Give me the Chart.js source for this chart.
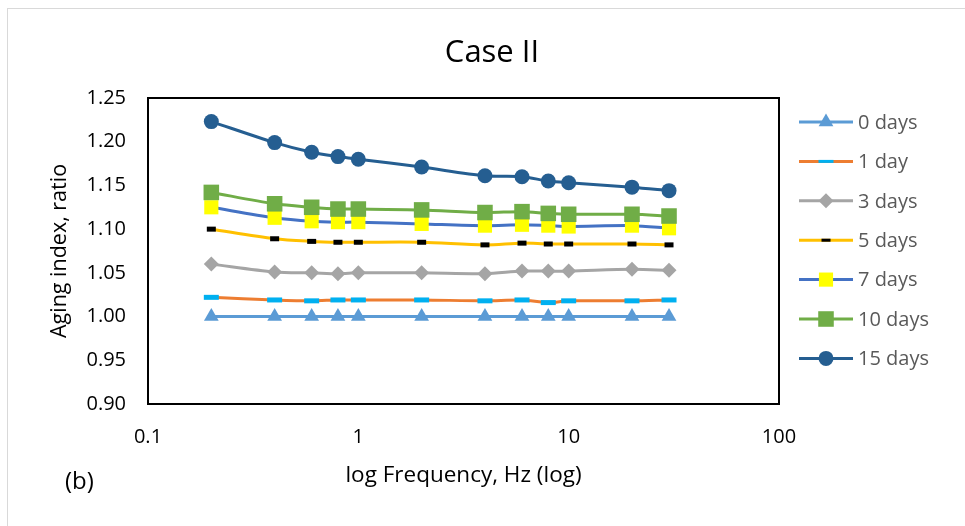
<!DOCTYPE html>
<html>
<head>
<meta charset="utf-8">
<script src="https://cdn.jsdelivr.net/npm/chart.js@4"></script>
<style>
  html, body { margin: 0; padding: 0; background: #fff; }
  #wrap { width: 965px; height: 526px; position: relative; }
</style>
</head>
<body>
<div id="wrap"><canvas id="agingChart"></canvas></div>
<script>
const freq = [0.2, 0.4, 0.6, 0.8, 1, 2, 4, 6, 8, 10, 20, 30];

const day0 = [1.000, 1.000, 1.000, 1.000, 1.000, 1.000, 1.000, 1.000, 1.000, 1.000, 1.000, 1.000];
const day1 = [1.022, 1.019, 1.018, 1.019, 1.019, 1.019, 1.018, 1.019, 1.016, 1.018, 1.018, 1.019];
const day3 = [1.060, 1.051, 1.050, 1.049, 1.050, 1.050, 1.049, 1.052, 1.052, 1.052, 1.054, 1.053];
const day5 = [1.100, 1.089, 1.086, 1.085, 1.085, 1.085, 1.082, 1.084, 1.083, 1.083, 1.083, 1.082];
const day7 = [1.125, 1.113, 1.109, 1.108, 1.108, 1.106, 1.104, 1.105, 1.104, 1.103, 1.104, 1.101];
const day10 = [1.142, 1.129, 1.125, 1.123, 1.123, 1.122, 1.119, 1.120, 1.118, 1.117, 1.117, 1.115];
const day15 = [1.223, 1.199, 1.188, 1.183, 1.180, 1.171, 1.161, 1.160, 1.155, 1.153, 1.148, 1.144];

const xTicks = [0.1, 1, 10, 100];
const yTicks = [0.90, 0.95, 1.00, 1.05, 1.10, 1.15, 1.20, 1.25];

const FONT = "'Open Sans', 'DejaVu Sans', sans-serif";

function makeSeries(label, values, line, style) {
    return Object.assign({
        label: label,
        data: values.map((v, i) => ({ x: freq[i], y: v })),
        borderColor: line,
        borderWidth: 3,
        tension: 0.3,
        pointBorderWidth: 0
    }, style);
}

const series = [
    makeSeries('0 days', day0, '#5B9BD5', { pointStyle: 'triangle', pointRadius: 8.5, pointBackgroundColor: '#5B9BD5' }),
    makeSeries('1 day', day1, '#ED7D31', { pointStyle: 'line', pointRadius: 7.5, pointBorderWidth: 5, pointBorderColor: '#00B0F0' }),
    makeSeries('3 days', day3, '#A5A5A5', { pointStyle: 'rectRot', pointRadius: 7.5, pointBackgroundColor: '#A5A5A5' }),
    makeSeries('5 days', day5, '#FFC000', { pointStyle: 'line', pointRadius: 4.5, pointBorderWidth: 5, pointBorderColor: '#000000' }),
    makeSeries('7 days', day7, '#4472C4', { pointStyle: 'rect', pointRadius: 10, pointBackgroundColor: '#FFFF00' }),
    makeSeries('10 days', day10, '#70AD47', { pointStyle: 'rect', pointRadius: 11, pointBackgroundColor: '#70AD47' }),
    makeSeries('15 days', day15, '#255E91', { pointStyle: 'circle', pointRadius: 7.5, pointBackgroundColor: '#255E91' })
];
// later series sit on top
series.forEach((s, i) => { s.order = series.length - i; });

// outer border, plot frame, title, panel tag and the line+marker legend
const decorations = {
    id: 'decorations',
    beforeDraw(chart) {
        const ctx = chart.ctx;
        ctx.save();
        ctx.strokeStyle = '#D9D9D9';
        ctx.lineWidth = 1;
        ctx.strokeRect(7.5, 8.5, 1000, 600);
        ctx.restore();
    },
    afterDraw(chart) {
        const ctx = chart.ctx;
        const a = chart.chartArea;
        ctx.save();
        ctx.strokeStyle = '#000';
        ctx.lineWidth = 2;
        ctx.strokeRect(a.left, a.top, a.right - a.left, a.bottom - a.top);

        ctx.fillStyle = '#000';
        ctx.textAlign = 'center';
        ctx.textBaseline = 'middle';
        ctx.font = '31px ' + FONT;
        ctx.fillText('Case II', 492, 53);

        ctx.textAlign = 'left';
        ctx.font = '24px ' + FONT;
        ctx.fillText('(b)', 65, 482);

        // legend
        const x0 = 799, x1 = 853, top = 122, step = 39.4;
        ctx.font = '20px ' + FONT;
        chart.data.datasets.forEach((ds, i) => {
            const y = top + i * step;
            ctx.beginPath();
            ctx.strokeStyle = ds.borderColor;
            ctx.lineWidth = 3;
            ctx.moveTo(x0, y);
            ctx.lineTo(x1, y);
            ctx.stroke();
            ctx.fillStyle = ds.pointBackgroundColor || ds.borderColor;
            ctx.strokeStyle = ds.pointBorderColor || ds.borderColor;
            Chart.helpers.drawPoint(ctx, {
                pointStyle: ds.pointStyle,
                radius: ds.pointRadius,
                borderWidth: ds.pointBorderWidth,
                rotation: 0
            }, (x0 + x1) / 2, y);
            ctx.fillStyle = '#595959';
            ctx.fillText(ds.label, 858, y + 1);
        });
        ctx.restore();
    }
};

new Chart(document.getElementById('agingChart'), {
    type: 'line',
    data: { datasets: series },
    options: {
        responsive: true,
        maintainAspectRatio: false,
        animation: false,
        events: [],
        layout: {
            padding: { left: 0, top: 98, right: 186, bottom: 0 }
        },
        scales: {
            x: {
                type: 'logarithmic',
                min: 0.1,
                max: 100,
                afterBuildTicks: (scale) => { scale.ticks = xTicks.map(v => ({ value: v })); },
                afterFit: (scale) => { scale.height = 122; },
                grid: { display: false, drawTicks: false },
                border: { display: false },
                ticks: {
                    color: '#000',
                    padding: 21,
                    autoSkip: false,
                    maxRotation: 0,
                    font: { family: FONT, size: 20 },
                    callback: (v) => String(v)
                },
                title: {
                    display: true,
                    text: 'log Frequency, Hz (log)',
                    color: '#000',
                    font: { family: FONT, size: 22.5 },
                    padding: { top: 0, bottom: 37 }
                }
            },
            y: {
                min: 0.9,
                max: 1.25,
                afterBuildTicks: (scale) => { scale.ticks = yTicks.map(v => ({ value: v })); },
                afterFit: (scale) => { scale.width = 148; },
                grid: { display: false, drawTicks: false },
                border: { display: false },
                ticks: {
                    color: '#000',
                    padding: 22,
                    font: { family: FONT, size: 20 },
                    callback: (v) => Number(v).toFixed(2)
                },
                title: {
                    display: true,
                    text: 'Aging index, ratio',
                    color: '#000',
                    font: { family: FONT, size: 21.5 },
                    padding: { top: 47, bottom: 0 }
                }
            }
        },
        plugins: {
            legend: { display: false },
            title: { display: false },
            tooltip: { enabled: false }
        }
    },
    plugins: [decorations]
});
</script>
</body>
</html>
